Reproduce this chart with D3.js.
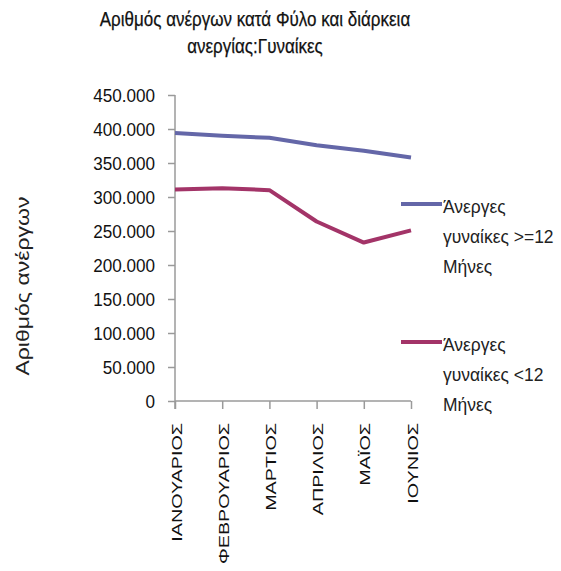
<!DOCTYPE html>
<html><head><meta charset="utf-8">
<script src="https://cdn.jsdelivr.net/npm/d3@7"></script>
<style>
body{margin:0;background:#fff;}
text{font-family:"Liberation Sans",Arial,sans-serif;fill:#111;}
</style></head>
<body><svg id="c" width="561" height="571"></svg>
<script>
const months = ["ΙΑΝΟΥΑΡΙΟΣ","ΦΕΒΡΟΥΑΡΙΟΣ","ΜΑΡΤΙΟΣ","ΑΠΡΙΛΙΟΣ","ΜΑΪΟΣ","ΙΟΥΝΙΟΣ"];
const longTerm = [394000,390000,387000,376000,368000,358000];
const shortTerm = [311000,313000,310000,264000,233000,251000];
const seriesNames = [["Άνεργες","γυναίκες >=12","Μήνες"],["Άνεργες","γυναίκες <12","Μήνες"]];
const seriesColors = ["#6467a8","#a33468"];
const yTicks = [0,50000,100000,150000,200000,250000,300000,350000,400000,450000];
const titleLines = ["Αριθμός ανέργων κατά Φύλο και διάρκεια","ανεργίας:Γυναίκες"];
const yTitle = "Αριθμός ανέργων";

const svg = d3.select("#c");
const x = d3.scalePoint().domain(months).range([175,411]);
const y = d3.scaleLinear().domain([0,450000]).range([401,95]);
const fmt = v => v===0 ? "0" : d3.format(",.3f")(v/1000).replace(",",".");

// stretch/condense text along its run by a factor (mimics the condensed source font)
function fit(sel, factor){
  sel.each(function(){
    const w = this.getComputedTextLength();
    d3.select(this).attr("textLength", w*factor).attr("lengthAdjust","spacingAndGlyphs");
  });
}

// title
const tt = svg.append("g").selectAll("text").data(titleLines).join("text")
  .attr("x",255).attr("y",(d,i)=>26+i*27).attr("text-anchor","middle")
  .style("font-size","20px").style("stroke","#111").style("stroke-width","0.25px").text(d=>d);
fit(tt, 0.85);

// y axis title
const yt = svg.append("text").attr("transform","translate(29,286) rotate(-90)")
  .attr("text-anchor","middle").style("font-size","18px").style("fill","#222").text(yTitle);
fit(yt, 1.28);

// y axis
const ya = svg.append("g").attr("transform","translate(175,0)")
  .call(d3.axisLeft(y).tickValues(yTicks).tickFormat(fmt).tickSizeOuter(0).tickSize(7).tickPadding(13));
ya.select(".domain").attr("stroke","#9a9a9a").attr("stroke-width",1.5).attr("d","M0,95V409");
ya.selectAll(".tick line").attr("stroke","#9a9a9a").attr("stroke-width",1.5);
ya.selectAll("text").style("font-size","18px").attr("dy","0.36em").style("fill","#111");
fit(ya.selectAll("text"), 0.95);

// x axis
const xa = svg.append("g").attr("transform","translate(0,401)")
  .call(d3.axisBottom(x).tickSizeOuter(0).tickSize(8).tickPadding(4));
xa.select(".domain").attr("stroke","#9a9a9a").attr("stroke-width",1.5).attr("d","M175,0H411");
xa.selectAll(".tick line").attr("stroke","#9a9a9a").attr("stroke-width",1.5);
xa.selectAll("text").attr("transform","rotate(-90)").attr("text-anchor","end")
  .attr("x",-22).attr("y",1).attr("dy","0.36em").style("fill","#111")
  .style("font-size","14px");
fit(xa.selectAll("text"), 1.41);

// lines
const line = d3.line().x((d,i)=>x(months[i])).y(d=>y(d));
[longTerm,shortTerm].forEach((s,k)=>{
  svg.append("path").datum(s).attr("d",line).attr("fill","none")
    .attr("stroke",seriesColors[k]).attr("stroke-width",4).attr("stroke-linejoin","round");
});

// legend
const legY = [204,342];
seriesNames.forEach((lines,k)=>{
  svg.append("line").attr("x1",401).attr("x2",442).attr("y1",legY[k]).attr("y2",legY[k])
    .attr("stroke",seriesColors[k]).attr("stroke-width",4);
  const lt = svg.append("g").selectAll("text").data(lines).join("text")
    .attr("x",443).attr("y",(d,i)=>legY[k]+9+i*30).style("font-size","18px").style("fill","#222").text(d=>d);
  fit(lt, 0.97);
});
</script></body></html>
